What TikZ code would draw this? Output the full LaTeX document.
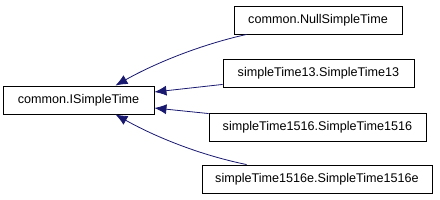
\documentclass[tikz,border=0pt]{standalone}
\usepackage{fontspec}
\setmainfont{Liberation Sans}
\usetikzlibrary{arrows.meta,calc}
\definecolor{edgeblue}{HTML}{191970}
\begin{document}
\begin{tikzpicture}[x=1pt,y=1pt,
  cls/.style={draw=black,line width=0.9pt,fill=white,minimum height=28pt,inner sep=0pt,font=\fontsize{12.6}{15}\selectfont},
  inh/.style={draw=edgeblue,line width=0.8pt,-{Latex[length=12pt,width=10pt]},fill=none},
]
\useasboundingbox (0,0) rectangle (440,200);
\node[cls,minimum width=151pt] (base) at (78.5,100) {common.ISimpleTime};
\node[cls,minimum width=168pt] (null) at (318,180) {common.NullSimpleTime};
\node[cls,minimum width=191pt] (t13) at (318.5,127) {simpleTime13.SimpleTime13};
\node[cls,minimum width=217pt] (t1516) at (317.5,73) {simpleTime1516.SimpleTime1516};
\node[cls,minimum width=230pt] (t1516e) at (317,21) {simpleTime1516e.SimpleTime1516e};
\draw[inh] ($(null.south west)+(13,0)$) .. controls (195,154) and (150,134) .. ($(base.north east)+(-39,0)$);
\draw[inh] ($(t13.south west)+(0,3)$) -- ($(base.east)+(0,8)$);
\draw[inh] ($(t1516.north west)+(0,-1)$) -- ($(base.east)+(0,-8)$);
\draw[inh] ($(t1516e.north west)+(45,0)$) .. controls (195,46) and (150,66) .. ($(base.south east)+(-39,0)$);
\end{tikzpicture}
\end{document}
